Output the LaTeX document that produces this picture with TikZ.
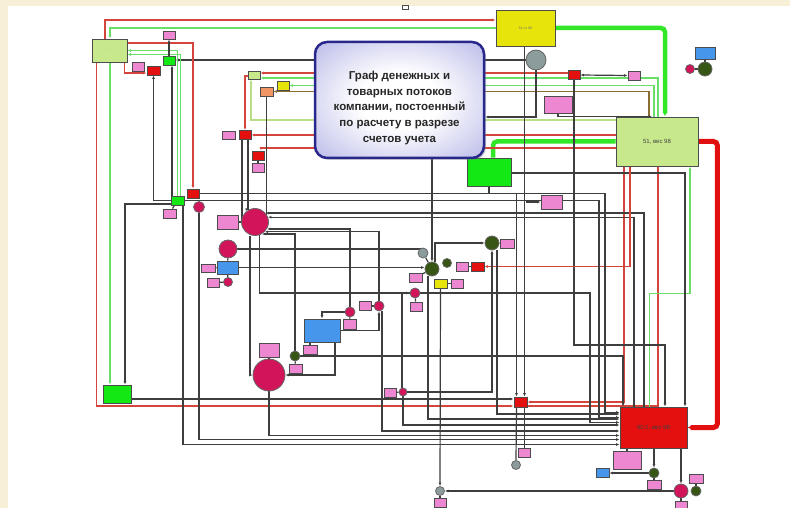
\documentclass[tikz,border=0pt]{standalone}
\usepackage{fontspec}
\setmainfont{Liberation Sans}
\usetikzlibrary{arrows.meta,shadows}

\definecolor{cream}{RGB}{248,240,214}
\definecolor{lnc}{RGB}{62,62,62}
\definecolor{lred}{RGB}{212,70,60}
\definecolor{lgreen}{RGB}{105,222,105}
\definecolor{ygreen}{RGB}{185,222,135}
\definecolor{brn}{RGB}{140,110,50}
\definecolor{tgreen}{RGB}{50,230,40}
\definecolor{tred}{RGB}{225,15,15}
\definecolor{pinkf}{RGB}{238,135,210}
\definecolor{redf}{RGB}{228,16,16}
\definecolor{lgf}{RGB}{200,232,140}
\definecolor{grf}{RGB}{20,232,20}
\definecolor{yelf}{RGB}{230,228,10}
\definecolor{orf}{RGB}{240,150,100}
\definecolor{bluf}{RGB}{70,150,235}
\definecolor{crim}{RGB}{210,20,90}
\definecolor{dkg}{RGB}{55,85,20}
\definecolor{gyf}{RGB}{140,155,155}
\definecolor{tblue}{RGB}{40,40,140}
\definecolor{tlav}{RGB}{160,160,225}

\newcommand{\dsh}{{\fontsize{2.5}{3}\selectfont - -}}

\pgfdeclareradialshading{tshade}{\pgfpoint{0bp}{0bp}}{color(0bp)=(white); color(12bp)=(white); color(45bp)=(tlav); color(70bp)=(tlav)}

\pgfdeclarelayer{bg}
\pgfsetlayers{bg,main}

\tikzset{
  bx/.style={draw=black!70, line width=0.9pt, inner sep=0pt, text=black!55},
  sm/.style={minimum width=12pt, minimum height=9pt},
  pbox/.style={bx, fill=pinkf},
  rbox/.style={bx, fill=redf},
  lgbox/.style={bx, fill=lgf},
  gbox/.style={bx, fill=grf},
  ybox/.style={bx, fill=yelf},
  obox/.style={bx, fill=orf},
  bbox/.style={bx, fill=bluf},
  dot/.style={circle, draw=black!60, line width=0.8pt, inner sep=0pt},
  cdot/.style={dot, fill=crim},
  dgdot/.style={dot, fill=dkg},
  gydot/.style={dot, fill=gyf},
  ln/.style={draw=lnc, line width=1.2pt},
  rl/.style={draw=lred, line width=1.1pt},
  gl/.style={draw=lgreen, line width=1.3pt},
  yl/.style={draw=ygreen, line width=1.2pt},
  bl/.style={draw=brn, line width=1.1pt},
  tgl/.style={draw=tgreen, line width=4.5pt},
  trl/.style={draw=tred, line width=5pt},
  title/.style={rounded corners=12pt, draw=tblue, line width=2.5pt,
    shading=tshade, minimum width=169pt, minimum height=116pt,
    drop shadow={opacity=0.35, shadow xshift=2pt, shadow yshift=-2pt}},
  ttext/.style={align=center, text=black!85,
    font=\bfseries\fontsize{11.5}{15.6}\selectfont},
  >={Latex[length=3.4pt,width=2.8pt]}
}

\begin{document}
\begin{tikzpicture}[x=1pt,y=-1pt]
\useasboundingbox (0,0) rectangle (790,508);

% top right part
\node[bx, fill=white, minimum width=6pt, minimum height=4pt] (mark) at (405,7) {};
\node[ybox, minimum width=59pt, minimum height=36pt, font=\fontsize{3.5}{4}\selectfont] (yel) at (525.5,28) {51 сч 98};
\node[gydot, minimum size=20pt] (tgray) at (536,60) {};
\node[rbox, sm] (rR) at (574,75) {};
\node[pbox, sm] (pR) at (634,75.5) {\dsh};
\node[pbox, minimum width=28pt, minimum height=17pt] (pR2) at (558,104.5) {\dsh};
\node[bbox, minimum width=20pt, minimum height=12pt] (bTR) at (705,53) {\dsh};
\node[dgdot, minimum size=14pt] (gTR) at (705,69) {};
\node[cdot, minimum size=9pt] (cTR) at (690,69) {};
\node[lgbox, minimum width=82pt, minimum height=49pt, font=\fontsize{6}{7}\selectfont, text=black!75] (lgR) at (657,141.5) {51, вес 98};
\node[gbox, minimum width=44pt, minimum height=28pt] (gB) at (489,172) {\dsh};
\node[pbox, minimum width=21pt, minimum height=14pt] (pM) at (551.5,202) {\dsh};

% bottom right part
\node[rbox, minimum width=67pt, minimum height=41pt, font=\fontsize{6}{7}\selectfont, text=black!75] (red60) at (653.5,427.5) {60.1, вес 98};
\node[pbox, minimum width=28pt, minimum height=18pt] (p60a) at (627,460) {\dsh};
\node[bbox, minimum width=13pt, minimum height=9pt] (b60) at (602.5,472.5) {};
\node[dgdot, minimum size=10pt] (g60a) at (654,473) {};
\node[pbox, minimum width=14pt, minimum height=9pt] (p60b) at (654,484.5) {\dsh};
\node[cdot, minimum size=14pt] (c60) at (681,491) {};
\node[dgdot, minimum size=10pt] (g60b) at (696,491) {};
\node[pbox, minimum width=14pt, minimum height=9pt] (p60c) at (696,478.5) {\dsh};
\node[pbox, minimum width=12pt, minimum height=8pt] (p60d) at (681,505) {};
\node[rbox, minimum width=13pt, minimum height=10pt] (rMid) at (520.5,402) {};
\node[pbox, sm] (pMid) at (524.5,452.5) {\dsh};
\node[gydot, minimum size=9pt] (gyMid) at (516,465) {};
\node[gydot, minimum size=9pt] (gyBot) at (440,491) {};
\node[pbox, sm] (pBot) at (440,503) {\dsh};
\node[pbox, sm] (pL1) at (390,392.5) {\dsh};
\node[cdot, minimum size=8pt] (cL1) at (403,392) {};

% middle cluster
\node[gydot, minimum size=10pt] (gyC) at (423,253) {};
\node[dgdot, minimum size=14pt] (dgC) at (432,269) {};
\node[dgdot, minimum size=9pt] (dgS) at (447,263) {};
\node[dgdot, minimum size=14pt] (dgR) at (492,243) {};
\node[pbox, minimum width=14pt, minimum height=9pt] (pDR) at (507,243.5) {\dsh};
\node[pbox, sm] (pC1) at (462,266.5) {\dsh};
\node[rbox, minimum width=13pt, minimum height=9pt] (rC) at (477.5,266.5) {};
\node[ybox, minimum width=13pt, minimum height=9pt] (yC) at (440.5,283.5) {};
\node[pbox, sm] (pC2) at (457,283.5) {\dsh};
\node[pbox, minimum width=13pt, minimum height=9pt] (pC3) at (415.5,277.5) {\dsh};
\node[cdot, minimum size=10pt] (cC) at (415,293) {};
\node[pbox, sm] (pC4) at (416,306.5) {\dsh};

% left cluster
\node[pbox, minimum width=21pt, minimum height=14pt] (pBC) at (227.5,222) {\dsh};
\node[cdot, minimum size=27pt] (cBig) at (255,222) {};
\node[cdot, minimum size=18pt] (cM) at (228,249) {};
\node[bbox, minimum width=21pt, minimum height=13pt] (bL) at (227.5,267.5) {\dsh};
\node[pbox, minimum width=14pt, minimum height=8pt] (pBL) at (208,268) {\dsh};
\node[pbox, sm] (pBL2) at (213,282.5) {\dsh};
\node[cdot, minimum size=9pt] (cS) at (228,282) {};
\node[bbox, minimum width=36pt, minimum height=23pt] (bM) at (322,330.5) {\dsh};
\node[cdot, minimum size=10pt] (cBM) at (350,312) {};
\node[pbox, minimum width=13pt, minimum height=10pt] (pBM1) at (349.5,324) {\dsh};
\node[pbox, sm] (pBM2) at (365,306) {\dsh};
\node[cdot, minimum size=10pt] (cBM2) at (379,306) {};
\node[pbox, minimum width=14pt, minimum height=9pt] (pBM3) at (310,349.5) {\dsh};
\node[dgdot, minimum size=10pt] (dgBM) at (295,356) {};
\node[pbox, minimum width=13pt, minimum height=9pt] (pBM4) at (295.5,368.5) {\dsh};
\node[pbox, minimum width=20pt, minimum height=14pt] (pBig) at (269,350) {\dsh};
\node[cdot, minimum size=32pt] (cBig2) at (269,375) {};

% top left part
\node[lgbox, minimum width=35pt, minimum height=23pt] (lgL) at (109.5,50.5) {\dsh};
\node[gbox, sm] (gS) at (169,60.5) {};
\node[pbox, minimum width=12pt, minimum height=8pt] (pS) at (169,35) {\dsh};
\node[pbox, sm] (pS2) at (138,66.5) {\dsh};
\node[rbox, minimum width=13pt, minimum height=9pt] (rS) at (153.5,70.5) {};
\node[lgbox, minimum width=12pt, minimum height=8pt] (lgSm) at (254,75) {};
\node[ybox, sm] (ySm) at (283,85.5) {};
\node[obox, minimum width=13pt, minimum height=9pt] (oSm) at (266.5,91.5) {};
\node[pbox, minimum width=13pt, minimum height=8pt] (pR1) at (228.5,135) {\dsh};
\node[rbox, sm] (rR1) at (245,135) {};
\node[rbox, sm] (rR2) at (258,155.5) {};
\node[pbox, sm] (pR2b) at (258,167.5) {\dsh};
\node[rbox, sm] (rG) at (193,193.5) {};
\node[gbox, minimum width=13pt, minimum height=9pt] (gG) at (177.5,200.5) {};
\node[cdot, minimum size=11pt] (cG) at (199,207) {};
\node[pbox, minimum width=13pt, minimum height=9pt] (pG) at (169.5,213.5) {\dsh};
\node[gbox, minimum width=28pt, minimum height=18pt] (gBig) at (117,394) {\dsh};

% title
\node[title] (title) at (399.5,100) {};
\node[ttext] (ttext) at (399.5,108) {Граф денежных и\\товарных потоков\\компании, постоенный\\по расчету в разрезе\\счетов учета};

\begin{pgfonlayer}{bg}
\fill[cream] (0,0) rectangle (790,508);
\fill[white] (8,6) rectangle (790,508);
% thick flows
\draw[tgl,->,rounded corners=4pt] (yel.east) -| ([xshift=8pt]lgR.north);
\draw[trl,->,rounded corners=4pt] (lgR.east) -| ([xshift=30pt]red60.east) -- (red60.east);
\draw[tgl,rounded corners=4pt] (lgR.west) -| ([xshift=4pt]gB.north);
% top lines
\draw[rl,->] ([xshift=-4.5pt]lgL.north) |- ([yshift=8pt]yel.west);
\draw[gl,->] (yel.west) -| ([xshift=0.5pt]lgL.north);
\draw[ln,->] (tgray.west) -- (tgray.west -| gS.east);
\draw[rl,->] ([yshift=2pt]rR.west) -- ([yshift=2pt]rR.west -| lgSm.east);
\draw[gl,->] ([xshift=1pt]lgR.north) |- ([yshift=-3pt]lgSm.east);
\draw[gl,->] ([xshift=-3pt]lgR.north) |- (ySm.east);
\draw[bl,->] ([xshift=-8pt]lgR.north) |- (oSm.east);
\draw[yl,<-] ([xshift=-3pt]lgSm.south) |- ([yshift=21.5pt]lgR.west);
\draw[rl,->] ([yshift=6.5pt]lgR.west) -- ([yshift=6.5pt]lgR.west -| rR1.east);
\draw[rl,->] ([yshift=-6.5pt]lgR.west) -| ([xshift=3pt]rR2.north);
\draw[ln,->] (tgray.south) |- ([yshift=-17pt]title.east);
\draw[ln,<->] (rR.east) -- (pR.west);
\draw[ln,->] (pR2.south) |- ([xshift=-5pt]lgR.north);
\draw[ln] (bTR) -- (gTR);
\draw[ln] (cTR) -- (gTR);
% left side
\draw[rl,->] ([yshift=7.5pt]lgL.east) -| (rG.north);
\draw[gl,->] (gG.north) |- (lgL.east);
\draw[gl,->] ([xshift=3pt]gG.north) |- ([yshift=-4pt]lgL.east);
\draw[ln,<-] ([xshift=3pt]gS.south) -- ([xshift=3pt]gS.south |- gG.north);
\draw[ln,->] (gG.west) -| (rS.south);
\draw[rl,->] ([xshift=15pt]lgL.south) |- ([yshift=-2.5pt]rS.west);
\draw[ln,->] (gS.north) -- (pS.south);
\draw[rl,->] ([xshift=-13pt]lgL.south) |- ([yshift=-4pt]rMid.west);
\draw[gl,->] ([xshift=0.5pt]lgL.south) -- ([xshift=0.5pt]lgL.south |- gBig.north);
\draw[ln,->] ([yshift=-3.5pt]gG.west) -| ([xshift=8pt]gBig.north);
\draw[ln,->] ([yshift=-5pt]gBig.east) -- ([yshift=-5pt]gBig.east -| rMid.west);
\draw[ln] (gG) -- (pG);
\draw[rl,->] ([yshift=-1pt]lgSm.west) -| (rR1.north);
\draw[ln,->] ([xshift=-3pt]rR1.south) |- (cBig.west);
\draw[ln,->] ([xshift=3pt]rR1.south) |- (cBig.115);
\draw[ln,->] (oSm.south) |- (cBig.30);
\draw[ln] (rR2) -- (pR2b);
% right side into the red box
\draw[rl,->] ([xshift=-33pt]lgR.south) |- (rMid.east);
\draw[rl] ([xshift=1pt]lgR.south) |- ([yshift=-4pt]rMid.east);
\draw[gl,<-] ([xshift=33pt]lgR.south) -- ++(0,127) -| ([xshift=-4pt]red60.north);
\draw[ln,->] (rR.south) -- ++(0,265) -| ([xshift=11.5pt]red60.north);
\draw[ln,->] ([yshift=-1pt]gB.east) -| ([xshift=31.5pt]red60.north);
\draw[ln,->] (dgBM.east) -| ([xshift=-30.5pt]red60.north);
\draw[ln,->] ([xshift=-19.5pt]red60.north) |- (cBig.20);
\draw[ln,->] ([xshift=-9.5pt]red60.north) |- (cBig.40);
\draw[rl,->] ([xshift=-27pt]lgR.south) |- (rC.east);
\draw[ln,->] ([xshift=5.5pt]gG.south) |- ([yshift=-17pt]red60.west);
\draw[ln,->] (cG.south) |- ([yshift=-12pt]red60.west);
\draw[ln,->] (cBig2.south) |- ([yshift=-8pt]red60.west);
\draw[ln,->] (rG.east) -| (605,300) |- ([yshift=15pt]red60.west);
\draw[ln,->] (gG.east) -| (599,300) |- ([yshift=10pt]red60.west);
\draw[ln,->] (cBig.-70) |- (590,293) |- ([yshift=5pt]red60.west);
\draw[ln,->] (cL1.south) |- ([yshift=2.5pt]red60.west);
\draw[ln,->] ([xshift=3pt]cBM2.south) |- ([yshift=-3.5pt]red60.west);
\draw[ln,->] ([xshift=-4pt]dgC.south) |- ([yshift=8.5pt]red60.west);
\draw[ln,->] ([xshift=5pt]dgR.south) |- ([yshift=13.5pt]red60.west);
% middle
\draw[ln,->] (dgBM.north) |- (cBig.-60);
\draw[ln,->] (cBM.north) |- (cBig.-30);
\draw[ln,->] (cBM2.north) |- (cBig.-45);
\draw[ln,->] ([xshift=3pt]dgC.north) |- (dgR.west);
\draw[ln] (gyC) -- (dgC);
\draw[ln,->] (cL1.east) -| (dgR.south);
\draw[ln,->] (yC.south) -- (gyBot.north);
\draw[ln,->] (c60.west) -- (gyBot.east);
\draw[ln] (gyBot) -- (pBot);
\draw[ln,->] (gB.south) -- ++(0,7) -| ([xshift=-4pt]rMid.north);
\draw[ln,->] ([xshift=-1pt]yel.south) -- ([xshift=4pt]rMid.north);
\draw[ln,->] (yel.south |- pM.west) -- (pM.west);
\draw[ln] ([xshift=-4pt]rMid.south) -- (gyMid.north);
\draw[ln] ([xshift=4pt]rMid.south) -- (pMid.north);
\draw[ln,->] ([xshift=-5pt]cBig.south) |- (cBig2.west);
\draw[ln,->] (bM.east) -| (cBM2.south);
\draw[ln,<-] (bM.north) |- (cBM.west);
\draw[ln,->] ([xshift=13pt]bM.south) |- (cBig2.east);
\draw[ln] (pBig) -- (cBig2);
\draw[ln] (pBM3.north) -- (pBM3.north |- bM.south);
\draw[ln] (dgBM) -- (pBM4);
\draw[ln] (pBC) -- (cBig);
\draw[ln] (cM) -- (bL);
\draw[ln,->] (bL.east) -- (bL.east -| dgC.west);
\draw[ln,->] (cM.east) -| (gyC.north);
\draw[ln] (pBL) -- (bL);
\draw[ln] (pBL2) -- (cS);
\draw[ln] (cS) -- (bL);
\draw[ln] (cBM) -- (pBM1);
\draw[ln] (pBM2) -- (cBM2);
\draw[ln,->] ([xshift=-1pt]cL1.north) |- (cC.west);
\draw[ln] (cC) -- (pC4);
\draw[ln] (pC3) -- (dgC);
\draw[ln] (yC) -- (pC2);
\draw[ln] (pC1) -- (rC);
\draw[ln] (dgR) -- (pDR);
\draw[ln] (pL1) -- (cL1);
\draw[ln,->] (dgC.north |- title.south) -- (dgC.north);
% bottom right
\draw[ln] (red60.south -| p60a.north) -- (p60a.north);
\draw[ln,->] (red60.south -| g60a.north) -- (g60a.north);
\draw[ln,->] (red60.south -| c60.north) -- (c60.north);
\draw[ln,->] (g60a.west) -- (g60a.west -| b60.east);
\draw[ln] (c60) -- (p60d);
\draw[ln] (g60b) -- (p60c);
\draw[ln] (g60a) -- (p60b);
\end{pgfonlayer}
\end{tikzpicture}
\end{document}
